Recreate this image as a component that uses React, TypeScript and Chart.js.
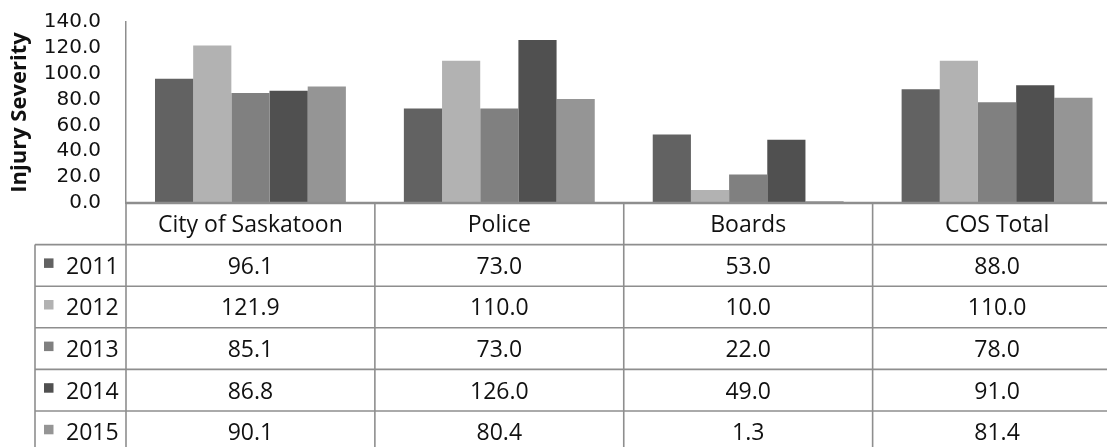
import React, { useEffect, useRef } from "react";
import { Chart, registerables } from "chart.js";

Chart.register(...registerables);

const categories = ["City of Saskatoon", "Police", "Boards", "COS Total"];
const years = ["2011", "2012", "2013", "2014", "2015"];
const v2011 = [96.1, 73.0, 53.0, 88.0];
const v2012 = [121.9, 110.0, 10.0, 110.0];
const v2013 = [85.1, 73.0, 22.0, 78.0];
const v2014 = [86.8, 126.0, 49.0, 91.0];
const v2015 = [90.1, 80.4, 1.3, 81.4];
const seriesValues = [v2011, v2012, v2013, v2014, v2015];
const seriesColors = ["#626262", "#b2b2b2", "#808080", "#505050", "#959595"];
const yTicks = [0, 20, 40, 60, 80, 100, 120, 140];

const CANVAS_W = 1130;
const CANVAS_H = 447;
const TABLE_FONT = "23px 'Open Sans'";
const LINE_COLOR = "#8e8e8e";

const tablePlugin = {
  id: "dataTable",
  afterDraw(chart: any) {
    const ctx = chart.ctx as CanvasRenderingContext2D;
    const area = chart.chartArea;
    const left = area.left;
    const right = area.right;
    const top = area.bottom;
    const n = categories.length;
    const cw = (right - left) / n;
    const rowH = 41.6;
    const legendLeft = 35;
    const bottom = CANVAS_H + 20;
    ctx.save();
    ctx.strokeStyle = LINE_COLOR;
    ctx.lineWidth = 1.6;
    for (let k = 1; k <= years.length + 1; k++) {
      const y = top + k * rowH;
      ctx.beginPath();
      ctx.moveTo(legendLeft, y);
      ctx.lineTo(CANVAS_W, y);
      ctx.stroke();
    }
    for (let i = 0; i <= n; i++) {
      const x = left + i * cw;
      ctx.beginPath();
      ctx.moveTo(x, top);
      ctx.lineTo(x, bottom);
      ctx.stroke();
    }
    ctx.beginPath();
    ctx.moveTo(legendLeft, top + rowH);
    ctx.lineTo(legendLeft, bottom);
    ctx.stroke();
    ctx.lineWidth = 2.5;
    ctx.beginPath();
    ctx.moveTo(left, top);
    ctx.lineTo(CANVAS_W, top);
    ctx.stroke();

    ctx.fillStyle = "#111";
    ctx.font = TABLE_FONT;
    ctx.textBaseline = "alphabetic";
    ctx.textAlign = "center";
    const off = 8.3;
    categories.forEach((c, i) => {
      ctx.fillText(c, left + (i + 0.5) * cw, top + rowH / 2 + off);
    });
    years.forEach((yr, r) => {
      const cy = top + (r + 1) * rowH + rowH / 2;
      ctx.fillStyle = seriesColors[r];
      ctx.fillRect(44, cy - 7, 9.5, 9.5);
      ctx.fillStyle = "#111";
      ctx.textAlign = "left";
      ctx.fillText(yr, 66, cy + off);
      ctx.textAlign = "center";
      seriesValues[r].forEach((v, i) => {
        ctx.fillText(v.toFixed(1), left + (i + 0.5) * cw, cy + off);
      });
    });
    ctx.restore();
  },
};

export default function App() {
  const ref = useRef<HTMLCanvasElement | null>(null);
  useEffect(() => {
    if (!ref.current) return;
    const chart = new Chart(ref.current, {
      type: "bar",
      data: {
        labels: categories,
        datasets: years.map((yr, r) => ({
          label: yr,
          data: seriesValues[r],
          backgroundColor: seriesColors[r],
          borderWidth: 0,
          categoryPercentage: 0.767,
          barPercentage: 1.0,
        })),
      },
      options: {
        responsive: false,
        animation: false,
        events: [],
        layout: { padding: { top: 22, bottom: 244, left: 0, right: CANVAS_W - 1121.5 } },
        plugins: { legend: { display: false }, tooltip: { enabled: false }, title: { display: false } },
        scales: {
          x: { display: false },
          y: {
            min: 0,
            max: 140,
            afterBuildTicks: (scale: any) => {
              scale.ticks = yTicks.map((v) => ({ value: v }));
            },
            afterFit: (scale: any) => {
              scale.width = 126;
              scale.paddingTop = 0;
              scale.paddingBottom = 0;
            },
            grid: { display: false, drawTicks: false },
            border: { display: true, color: LINE_COLOR, width: 1.5 },
            ticks: {
              autoSkip: false,
              padding: 25,
              color: "#111",
              font: { family: "'DejaVu Sans'", size: 20 },
              callback: (v: any) => Number(v).toFixed(1),
            },
            title: {
              display: true,
              text: "Injury Severity",
              color: "#111",
              font: { family: "'Open Sans'", size: 22, weight: "bold" },
              padding: { top: 7, bottom: 0 },
            },
          },
        },
      },
      plugins: [tablePlugin],
    });
    return () => chart.destroy();
  }, []);
  return (
    <div style={{ position: "fixed", left: 0, top: 0, width: 1107, height: 447, overflow: "hidden", background: "#fff" }}>
      <canvas ref={ref} width={CANVAS_W} height={CANVAS_H} style={{ display: "block", width: CANVAS_W, height: CANVAS_H }} />
    </div>
  );
}
